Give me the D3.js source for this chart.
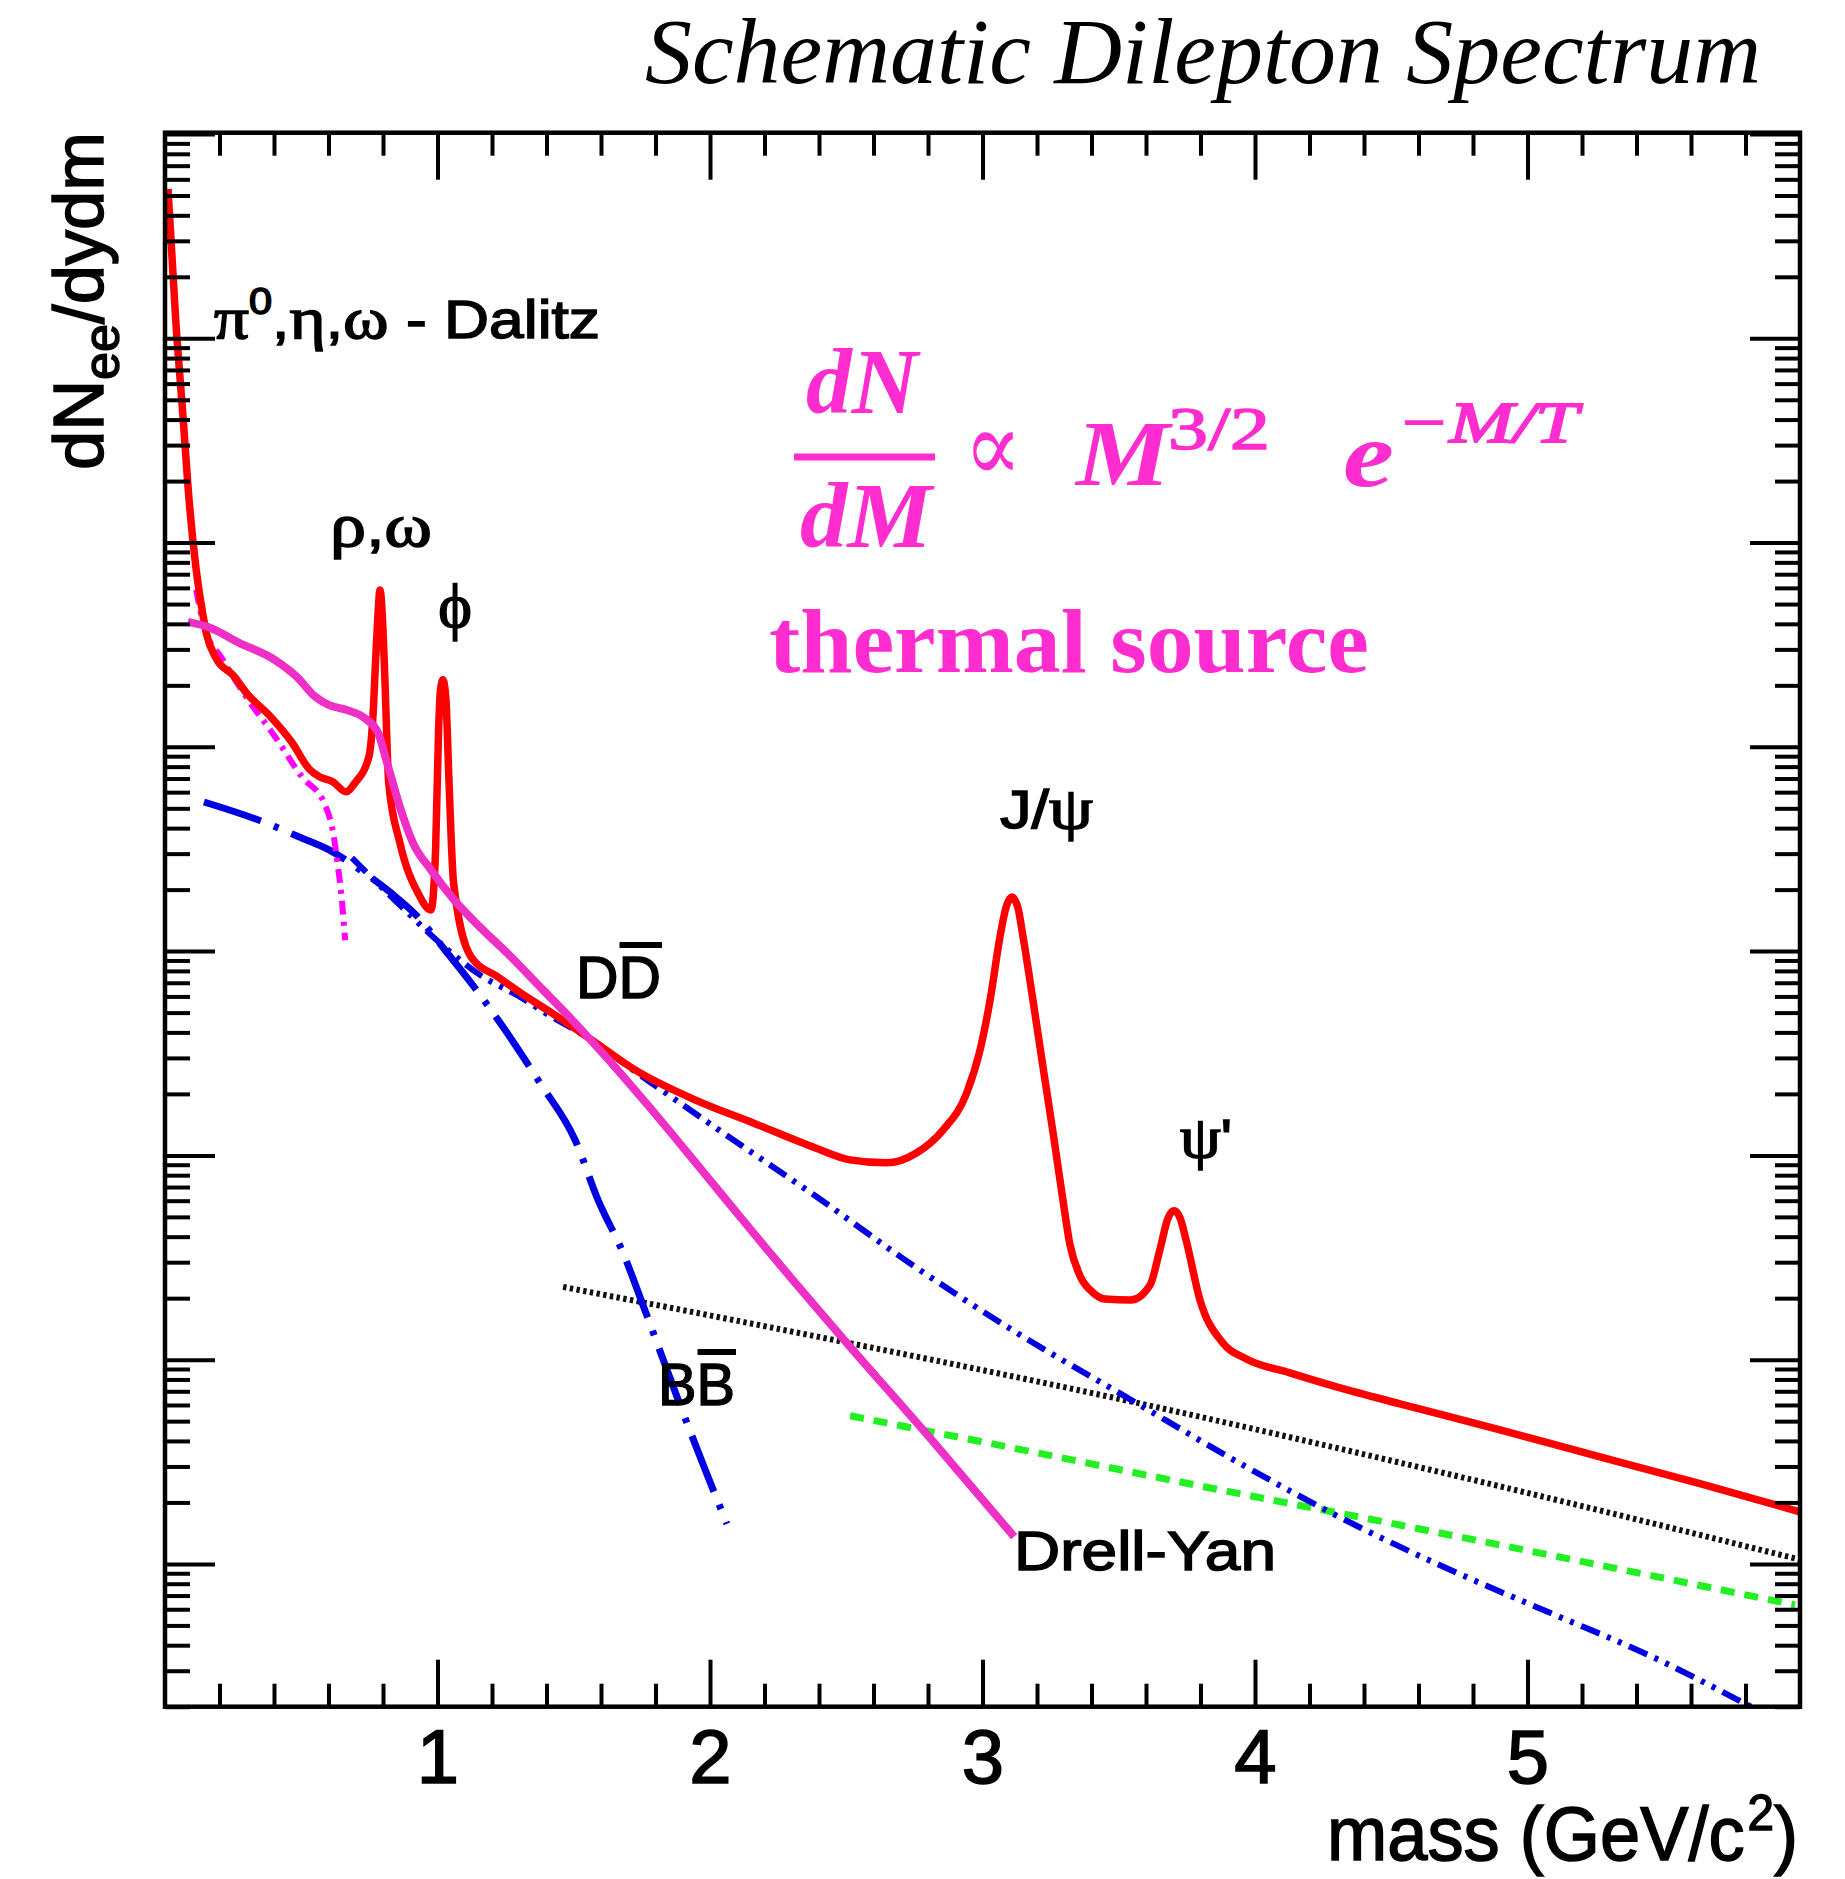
<!DOCTYPE html>
<html><head><meta charset="utf-8">
<script src="https://cdn.jsdelivr.net/npm/d3@7"></script>
<style>body{margin:0;background:#fff;} svg{display:block;}</style>
</head><body>
<svg id="chart" width="1845" height="1879"></svg>
<script>
// ---------------- data (mass in GeV/c^2, yield in arbitrary units) ----------------
const massTicks = [1, 2, 3, 4, 5];
const totalSpectrum = [
 [0.011,5.38],[0.040,1.19],[0.065,0.433],[0.089,0.158],[0.114,0.0745],[0.138,0.0452],[0.154,0.0350],
 [0.187,0.0272],[0.253,0.0222],[0.301,0.0182],[0.384,0.0142],[0.466,0.0105],[0.531,0.00774],
 [0.569,0.00712],[0.617,0.00673],[0.664,0.00602],[0.697,0.00666],[0.748,0.00892],[0.763,0.0140],
 [0.773,0.0266],[0.781,0.0432],[0.789,0.0586],[0.800,0.0374],[0.807,0.0213],[0.821,0.00666],
 [0.862,0.00339],[0.928,0.00193],[0.976,0.00159],[0.993,0.00313],[1.004,0.0121],[1.011,0.0190],
 [1.020,0.0213],[1.031,0.0170],[1.042,0.00689],[1.059,0.00216],[1.123,0.000937],[1.222,0.000747],
 [1.305,0.000624],[1.419,0.000498],[1.582,0.000355],[1.725,0.000262],[1.945,0.000187],[2.165,0.000143],
 [2.385,0.000109],[2.514,0.0000951],[2.648,0.0000919],[2.759,0.000103],[2.855,0.000133],[2.942,0.000202],
 [2.991,0.000328],[3.028,0.000577],[3.064,0.00117],[3.086,0.00163],[3.108,0.00184],[3.130,0.00163],
 [3.149,0.00117],[3.185,0.000577],[3.222,0.000271],[3.259,0.000129],[3.295,0.0000606],[3.321,0.0000365],
 [3.358,0.0000257],[3.402,0.0000215],[3.450,0.0000198],[3.545,0.0000196],[3.615,0.0000232],[3.651,0.0000345],
 [3.681,0.0000494],[3.703,0.0000535],[3.725,0.0000494],[3.747,0.0000386],[3.798,0.0000196],
 [3.879,0.0000122],[3.967,0.0000101],[4.128,0.00000862],[4.312,0.00000728],[4.532,0.00000608],
 [4.899,0.00000453],[5.266,0.00000334],[5.633,0.00000247],[6.0,0.0000018]
];
const thermalSource = [
 [0.084,0.0409],[0.158,0.0386],[0.272,0.0323],[0.404,0.0266],[0.484,0.0220],[0.551,0.0176],[0.602,0.0160],
 [0.664,0.0152],[0.730,0.0139],[0.782,0.0117],[0.815,0.00834],[0.862,0.00508],[0.910,0.00339],
 [0.976,0.00250],[1.061,0.00178],[1.156,0.00131],[1.255,0.00098],[1.387,0.000646],[1.501,0.000450],
 [1.615,0.000307],[1.780,0.000171],[2.029,0.0000678],[2.257,0.0000291],[2.492,0.0000125],
 [2.829,0.00000383],[3.116,0.00000136]
];
const dalitzDecays = [
 [0.114,0.0586],[0.147,0.0374],[0.206,0.0275],[0.305,0.0170],[0.404,0.0112],[0.503,0.00712],
 [0.584,0.00531],[0.617,0.00379],[0.635,0.00258],[0.650,0.00172],[0.661,0.00113]
];
const bbbarDecays = [
 [0.143,0.00537],[0.371,0.00424],[0.484,0.00366],[0.602,0.00313],[0.716,0.00250],[0.829,0.00193],
 [0.928,0.00147],[1.028,0.00101],[1.123,0.000699],[1.240,0.000426],[1.376,0.000226],[1.505,0.000119],
 [1.589,0.0000606],[1.681,0.0000333],[1.765,0.0000169],[1.883,0.00000636],[1.978,0.00000299],
 [2.062,0.00000157]
];
const ddbarDecays = [
 [0.686,0.00286],[0.862,0.00168],[1.028,0.00104],[1.156,0.000765],[1.303,0.000597],[1.420,0.000476],
 [1.505,0.000411],[1.769,0.000234],[2.033,0.000133],[2.407,0.0000606],[2.705,0.0000315],
 [3.127,0.0000135],[3.545,0.00000636],[3.967,0.00000299],[4.389,0.0000015],[4.716,0.000000936],
 [5.083,0.000000576],[5.450,0.000000355],[5.820,0.00000020]
];
const blackDotted = [
 [1.461,0.0000227],[2.492,0.0000122],[3.431,0.00000673],[4.532,0.00000313],[6.0,0.00000105]
];
const greenDashed = [
 [2.514,0.00000531],[3.127,0.00000366],[3.758,0.00000247],[4.532,0.00000155],[5.982,0.00000063]
];

// ---------------- layout ----------------
const svg = d3.select("#chart");
svg.append("rect").attr("width",1845).attr("height",1879).attr("fill","#fff");
const L = 165, R = 1800, T = 132.7, B = 1706.7;
const x = d3.scaleLinear().domain([0, 6]).range([L, R]);
const y = d3.scaleLog().domain([2.0e-7, 10.15]).range([B, T]);

const SANS = "'Liberation Sans', Arial, Helvetica, sans-serif";
const SERIF = "'Liberation Serif', 'Times New Roman', serif";

svg.append("defs").append("clipPath").attr("id","plotclip")
  .append("rect").attr("x",L).attr("y",T).attr("width",R-L).attr("height",B-T);

// ---------------- curves ----------------
const line = d3.line().x(d => x(d[0])).y(d => y(d[1])).curve(d3.curveMonotoneX);
const curves = svg.append("g").attr("clip-path","url(#plotclip)").attr("fill","none")
  .attr("stroke-linejoin","round");

curves.append("path").datum(blackDotted).attr("d",line)
  .attr("stroke","#111").attr("stroke-width",6).attr("stroke-dasharray","3.4,3.4");
curves.append("path").datum(greenDashed).attr("d",line)
  .attr("stroke","#22f022").attr("stroke-width",7).attr("stroke-dasharray","14,10");
curves.append("path").datum(ddbarDecays).attr("d",line)
  .attr("stroke","#0000e0").attr("stroke-width",6).attr("stroke-dasharray","20,8,4,8,4,8");
curves.append("path").datum(bbbarDecays).attr("d",line)
  .attr("stroke","#0000e0").attr("stroke-width",7).attr("stroke-dasharray","60,14,5,14");
curves.append("path").datum(dalitzDecays).attr("d",line)
  .attr("stroke","#ff00ff").attr("stroke-width",6).attr("stroke-dasharray","14,7,4,7");
curves.append("path").datum(totalSpectrum).attr("d",line)
  .attr("stroke","#ff0000").attr("stroke-width",7.5);
curves.append("path").datum(thermalSource).attr("d",line)
  .attr("stroke","#ee30c6").attr("stroke-width",8);

// ---------------- axes ----------------
const xMinor = d3.range(1, 30).map(i => i * 0.2).filter(v => Math.abs(v - Math.round(v)) > 1e-6);
const yAll = [];
for (let k = -7; k <= 1; k++) for (let m = 1; m <= 9; m++) {
  const v = m * Math.pow(10, k);
  if (v >= 2.0e-7 * 0.999 && v <= 10.15) yAll.push(v);
}
const yMajor = yAll.filter(v => Math.abs(Math.log10(v) - Math.round(Math.log10(v))) < 1e-9);
const yMinor = yAll.filter(v => !yMajor.includes(v));

function styleAxis(g) {
  g.select(".domain").remove();
  g.selectAll(".tick line").attr("stroke","#000").attr("stroke-width",4);
}
const axes = svg.append("g");
axes.append("g").attr("transform",`translate(0,${B})`)
  .call(d3.axisBottom(x).tickValues(xMinor).tickSize(-23).tickFormat("")).call(styleAxis);
axes.append("g").attr("transform",`translate(0,${T})`)
  .call(d3.axisTop(x).tickValues(xMinor).tickSize(-23).tickFormat("")).call(styleAxis);
axes.append("g").attr("transform",`translate(0,${T})`)
  .call(d3.axisTop(x).tickValues(massTicks).tickSize(-47).tickFormat("")).call(styleAxis);
const xMajorG = axes.append("g").attr("transform",`translate(0,${B})`)
  .call(d3.axisBottom(x).tickValues(massTicks).tickSize(-47).tickPadding(22).tickFormat(d3.format("d")))
  .call(styleAxis);
xMajorG.attr("font-family", SANS).attr("font-size", 76);
xMajorG.selectAll("text").attr("fill","#000").attr("stroke","#000").attr("stroke-width",1.6);

axes.append("g").attr("transform",`translate(${L},0)`)
  .call(d3.axisLeft(y).tickValues(yMinor).tickSize(-25).tickFormat("")).call(styleAxis);
axes.append("g").attr("transform",`translate(${L},0)`)
  .call(d3.axisLeft(y).tickValues(yMajor).tickSize(-50).tickFormat("")).call(styleAxis);
axes.append("g").attr("transform",`translate(${R},0)`)
  .call(d3.axisRight(y).tickValues(yMinor).tickSize(-25).tickFormat("")).call(styleAxis);
axes.append("g").attr("transform",`translate(${R},0)`)
  .call(d3.axisRight(y).tickValues(yMajor).tickSize(-50).tickFormat("")).call(styleAxis);

axes.append("rect").attr("x",L).attr("y",T).attr("width",R-L).attr("height",B-T)
  .attr("fill","none").attr("stroke","#000").attr("stroke-width",4.5);

// ---------------- texts ----------------
svg.append("text").attr("x",645).attr("y",83)
  .attr("font-family",SERIF).attr("font-style","italic").attr("font-size",94)
  .attr("textLength",1116).attr("lengthAdjust","spacingAndGlyphs")
  .text("Schematic Dilepton Spectrum");

const HEAVY = 1.5;
// y-axis title
const yt = svg.append("text").attr("transform","translate(103,470) rotate(-90)")
  .attr("font-family",SANS).attr("font-size",70).attr("stroke","#000").attr("stroke-width",HEAVY)
  .attr("textLength",338).attr("lengthAdjust","spacingAndGlyphs");
yt.append("tspan").text("dN");
yt.append("tspan").attr("font-size",50).attr("dy",16).text("ee");
yt.append("tspan").attr("dy",-16).text("/dydm");

// x-axis title
const xt = svg.append("text").attr("x",1327).attr("y",1860)
  .attr("font-family",SANS).attr("font-size",76).attr("stroke","#000").attr("stroke-width",HEAVY)
  .attr("textLength",471).attr("lengthAdjust","spacingAndGlyphs");
xt.append("tspan").text("mass (GeV/c");
xt.append("tspan").attr("font-size",50).attr("dx",3).attr("dy",-30).text("2");
xt.append("tspan").attr("dy",30).text(")");

// annotations
function label(parts, xx, yy, size, len) {
  const t = svg.append("text").attr("x",xx).attr("y",yy)
    .attr("font-family",SANS).attr("font-size",size).attr("fill","#000")
    .attr("stroke","#000").attr("stroke-width",HEAVY);
  if (len) t.attr("textLength",len).attr("lengthAdjust","spacingAndGlyphs");
  parts.forEach(p => {
    const s = t.append("tspan").text(p.t);
    if (p.greek) s.attr("font-family",SERIF);
    if (p.size) s.attr("font-size",p.size);
    if (p.dy) s.attr("dy",p.dy);
  });
  return t;
}
label([{t:"\u03c0",greek:1,size:60},{t:"0",size:36,dy:-24},{t:",",dy:24},{t:"\u03b7",greek:1,size:60},{t:","},
       {t:"\u03c9",greek:1,size:60},{t:" - Dalitz"}], 214, 338, 54, 386);
label([{t:"\u03c1",greek:1,size:62},{t:","},{t:"\u03c9",greek:1,size:62}], 330, 546, 56, 102);
label([{t:"\u03d5",greek:1}], 455, 627, 64).attr("text-anchor","middle").attr("font-family","'DejaVu Serif', serif");
label([{t:"J/"},{t:"\u03c8",greek:1,size:60}], 1000, 828, 54, 93);
label([{t:"\u03c8",greek:1,size:60},{t:"'"}], 1180, 1157, 54, 52);
label([{t:"Drell-Yan"}], 1014, 1570, 56, 262);

function barLabel(txt, xx, yy, size, len) {
  const t = label([{t:txt}], xx, yy, size, len);
  const n = t.node();
  const s = n.getStartPositionOfChar(1).x, e = n.getEndPositionOfChar(1).x;
  svg.append("line").attr("x1",s+1).attr("x2",e+1)
    .attr("y1",yy - size*0.716 - 10).attr("y2",yy - size*0.716 - 10)
    .attr("stroke","#000").attr("stroke-width",6);
}
barLabel("DD", 576, 998, 60, 85);
barLabel("BB", 658, 1405, 60, 77);

// thermal formula
const PINK = "#ff2ccf";
const f = svg.append("g").attr("fill",PINK);
function ftext(txt, xx, yy, size, len, opts) {
  const t = f.append("text").attr("x",xx).attr("y",yy).attr("font-family",(opts&&opts.fam)||SERIF)
    .attr("font-size",size).attr("textLength",len).attr("lengthAdjust","spacingAndGlyphs").text(txt);
  if (!opts || opts.italic !== false) t.attr("font-style","italic");
  if (!opts || opts.bold !== false) t.attr("font-weight","bold");
  return t;
}
ftext("dN", 806, 413, 94, 112);
f.append("line").attr("x1",794).attr("x2",935).attr("y1",457).attr("y2",457).attr("stroke",PINK).attr("stroke-width",7);
ftext("dM", 800, 547, 94, 132);
ftext("\u221d", 964, 481, 100, 58, {fam:"'DejaVu Serif', serif", italic:false, bold:false});
ftext("M", 1076, 485, 94, 94);
ftext("3/2", 1168, 449, 62, 102, {italic:false, bold:false}).attr("stroke",PINK).attr("stroke-width",1.5);
ftext("e", 1343, 486, 94, 51);
ftext("\u2212M/T", 1397, 442, 58, 181, {bold:false}).attr("stroke",PINK).attr("stroke-width",1.8);
ftext("thermal source", 769, 672, 90, 600, {italic:false});
</script>
</body></html>
